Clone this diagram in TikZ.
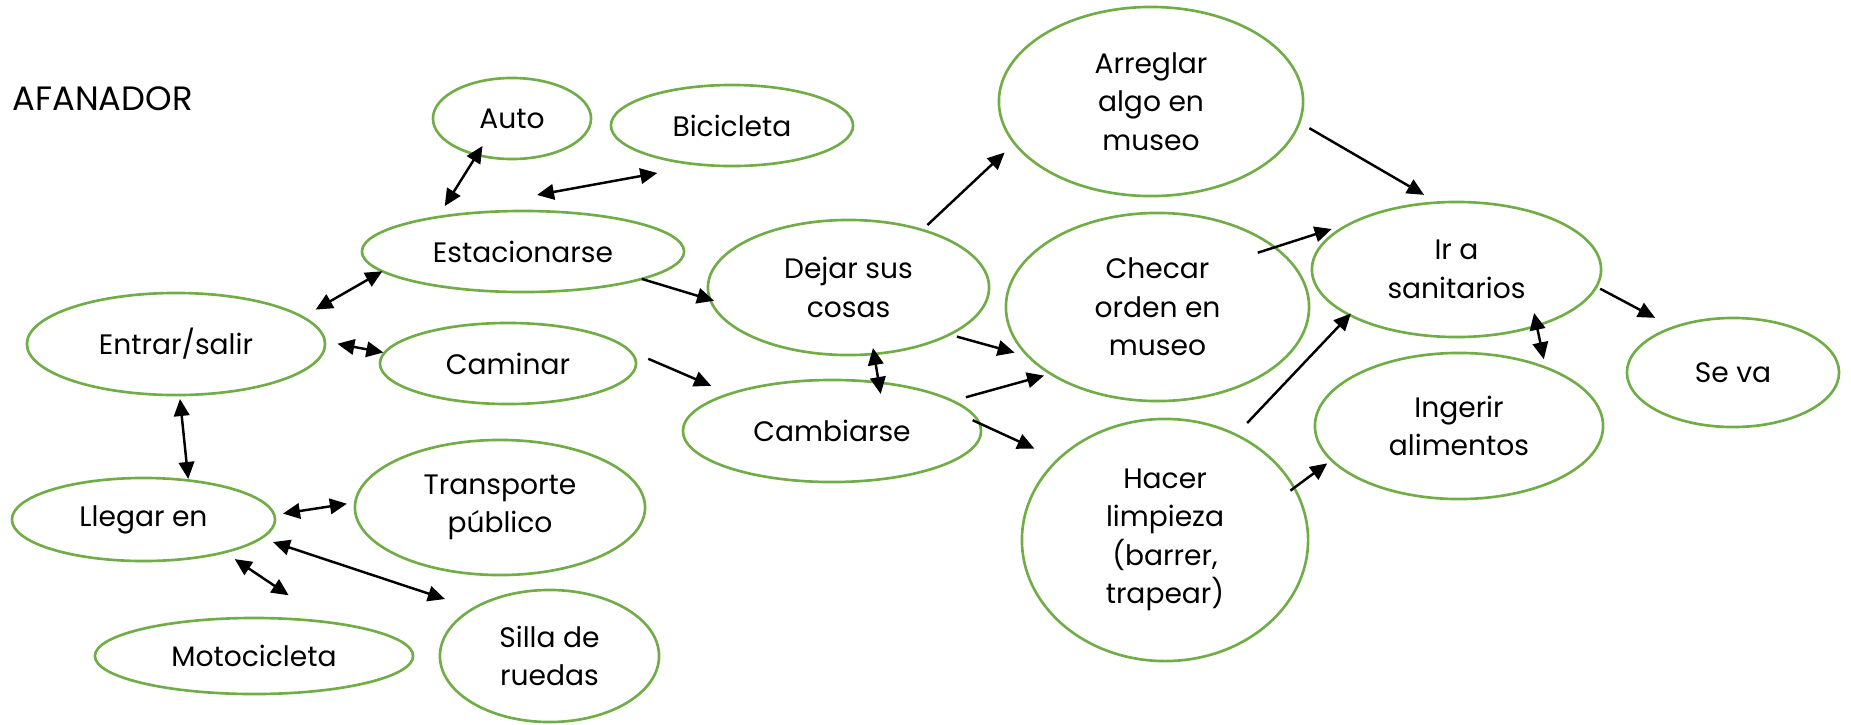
\documentclass[tikz,border=0pt]{standalone}
\usepackage{fontspec}
\setmainfont{Poppins}
\usetikzlibrary{shapes.geometric, arrows.meta}
\definecolor{leafgreen}{HTML}{70AD47}

\begin{document}
\begin{tikzpicture}[
  x=0.01cm, y=-0.01cm,
  bubble/.style={ellipse, draw=leafgreen, line width=0.75pt, inner sep=1pt, outer sep=0pt, align=center, font=\fontsize{8}{10.95}\selectfont},
  arr/.style={-{Triangle[length=1.7mm, width=1.55mm]}, line width=0.7pt},
  darr/.style={{Triangle[length=1.7mm, width=1.55mm]}-{Triangle[length=1.7mm, width=1.55mm]}, line width=0.7pt},
]
  \useasboundingbox (0,0) rectangle (1851,724);

  % Title
  \node[anchor=base west, inner sep=0pt, font=\fontsize{9.6}{11}\selectfont] (title) at (12,110) {AFANADOR};

  % Nodes
  \node[bubble, minimum width=1.58cm, minimum height=0.81cm] (auto) at (512,118.5) {Auto};
  \node[bubble, minimum width=2.42cm, minimum height=0.81cm] (bici) at (732,125.5) {Bicicleta};
  \node[bubble, minimum width=3.22cm, minimum height=0.81cm] (est) at (523,251.5) {Estacionarse};
  \node[bubble, minimum width=2.98cm, minimum height=1.02cm] (entrar) at (176,344) {Entrar/salir};
  \node[bubble, minimum width=2.56cm, minimum height=0.81cm] (caminar) at (508,363.5) {Caminar};
  \node[bubble, minimum width=2.81cm, minimum height=1.35cm] (dejar) at (848.5,287.5) {Dejar sus\\cosas};
  \node[bubble, minimum width=2.98cm, minimum height=1.02cm] (cambiarse) at (832,431) {Cambiarse};
  \node[bubble, minimum width=3.04cm, minimum height=1.89cm] (arreglar) at (1151,101.5) {Arreglar\\algo en\\museo};
  \node[bubble, minimum width=3.03cm, minimum height=1.88cm] (checar) at (1157.5,307) {Checar\\orden en\\museo};
  \node[bubble, minimum width=2.86cm, minimum height=2.42cm] (hacer) at (1165,540) {Hacer\\limpieza\\(barrer,\\trapear)};
  \node[bubble, minimum width=2.89cm, minimum height=1.35cm] (ir) at (1456.5,269.5) {Ir a\\sanitarios};
  \node[bubble, minimum width=2.88cm, minimum height=1.46cm] (ingerir) at (1459,426) {Ingerir\\alimentos};
  \node[bubble, minimum width=2.12cm, minimum height=1.09cm] (seva) at (1733,372.5) {Se va};
  \node[bubble, minimum width=2.63cm, minimum height=0.83cm] (llegar) at (143.5,519.5) {Llegar en};
  \node[bubble, minimum width=2.90cm, minimum height=1.35cm] (transporte) at (500,507.5) {Transporte\\público};
  \node[bubble, minimum width=3.18cm, minimum height=0.76cm] (moto) at (254,656) {Motocicleta};
  \node[bubble, minimum width=2.19cm, minimum height=1.32cm] (silla) at (549.5,656) {Silla de\\ruedas};

  % Arrows, left part
  \draw[darr, shorten <=-1.05mm, shorten >=1.3mm] (auto.226) -- (est.158);
  \draw[darr, shorten >=4.58mm] ([shift={(14,-16)}]est.north) -- (bici.233);
  \draw[darr, shorten <=1.5mm] (entrar.12) -- (est.188);
  \draw[darr, shorten <=1.27mm, shorten >=0.12mm] (entrar.1) -- (caminar.175);
  \draw[darr, shorten <=0.4mm, shorten >=0.15mm] (entrar.274) -- (llegar.41);
  \draw[darr, shorten <=0.88mm, shorten >=0.85mm] (llegar.2) -- (transporte.178);
  \draw[darr, shorten <=1.25mm, shorten >=3mm] (llegar.351) -- (silla.148);
  \draw[darr, shorten <=1.23mm, shorten >=4.88mm] (llegar.338) -- (moto.24);

  % Arrows, middle part
  \draw[arr, shorten >=-0.4mm] (est.347) -- (dejar.185);
  \draw[arr, shorten <=2.04mm, shorten >=2.04mm] (caminar.6) -- (cambiarse.160);
  \draw[darr, shorten <=-0.6mm, shorten >=-1.16mm] (dejar.291) -- (cambiarse.46);
  \draw[arr, shorten <=0.72mm, shorten >=1.36mm] (dejar.38) -- (arreglar.197);
  \draw[arr, shorten <=0.78mm, shorten >=1.45mm] (dejar.335) -- (checar.201);
  \draw[arr, shorten <=1.39mm, shorten >=0.69mm] (cambiarse.14) -- (checar.212);
  \draw[arr, shorten <=-0.74mm, shorten >=2.62mm] (cambiarse.3) -- (hacer.143);

  % Arrows, right part
  \draw[arr, shorten <=1.16mm, shorten >=1.53mm] (arreglar.352) -- (ir.106);
  \draw[arr, shorten <=-1.77mm, shorten >=2.36mm] (checar.27) -- (ir.155);
  \draw[arr, shorten <=1.63mm, shorten >=-0.2mm] (hacer.56) -- (ir.203);
  \draw[arr, shorten <=-0.46mm, shorten >=0.54mm] (hacer.22) -- (ingerir.195);
  \draw[darr, shorten <=-1.3mm, shorten >=0.85mm] (ir.325) -- (ingerir.34);
  \draw[arr, shorten <=0.44mm, shorten >=2.05mm] (ir.353) -- (seva.143);

\end{tikzpicture}
\end{document}
